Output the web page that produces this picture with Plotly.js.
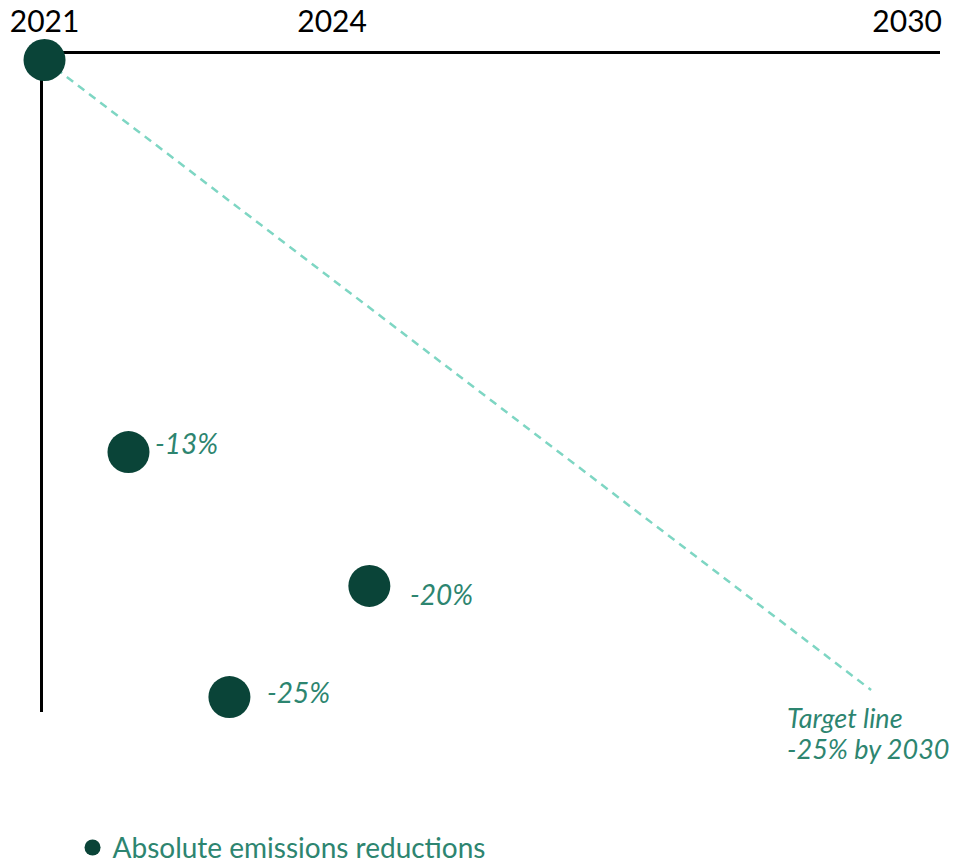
<!DOCTYPE html>
<html>
<head>
<meta charset="utf-8">
<script src="https://cdn.plot.ly/plotly-3.0.1.min.js"></script>
<style>html,body{margin:0;padding:0;background:#fff;}#chart{width:966px;height:865px;}</style>
</head>
<body>
<div id="chart"></div>
<script>
// Data
var years = [2021, 2021.876, 2022.929, 2024.389];
var reductions = [0, -15.56, -25.28, -20.87];
var pointLabels = ['', '-13%', '-25%', '-20%'];
var targetYears = [2021, 2029.624];
var targetValues = [0, -25];
var tickYears = [2021, 2024, 2030];
var tickLabels = ['2021', '2024', '2030'];
var seriesName = 'Absolute emissions reductions';
var targetLines = ['Target line', '-25% by 2030'];

// Styling
var FONT = 'Lato, "Open Sans", sans-serif';
var DARK = '#0a4438';
var MINT = '#7ed6c3';
var TEAL = '#2d8570';
var labelShift = [null, [25, 9], [36, 5], [39, -8]];
var targetShift = [[-86, -27], [-86, -58]];

var traces = [
  {
    x: targetYears, y: targetValues, mode: 'lines', type: 'scatter',
    line: {color: MINT, width: 2.5, dash: '8px,6px'},
    hoverinfo: 'skip', showlegend: false
  },
  {
    x: years, y: reductions, mode: 'markers', type: 'scatter', name: seriesName,
    marker: {color: DARK, size: 42, line: {width: 0}},
    cliponaxis: false, showlegend: true
  }
];

var annotations = [];
for (var i = 0; i < years.length; i++) {
  if (!pointLabels[i]) continue;
  annotations.push({
    x: years[i], y: reductions[i], xref: 'x', yref: 'y',
    text: '<i>' + pointLabels[i] + '</i>', showarrow: false,
    xanchor: 'left', yanchor: 'middle',
    xshift: labelShift[i][0], yshift: labelShift[i][1],
    font: {family: FONT, size: 28, color: TEAL}
  });
}
for (var j = 0; j < targetLines.length; j++) {
  annotations.push({
    x: targetYears[1], y: targetValues[1], xref: 'x', yref: 'y',
    text: '<i>' + targetLines[j] + '</i>', showarrow: false,
    xanchor: 'left', yanchor: 'middle', align: 'left',
    xshift: targetShift[j][0], yshift: targetShift[j][1],
    font: {family: FONT, size: 27, color: TEAL}
  });
}

var layout = {
  width: 966, height: 865,
  margin: {l: 42.5, r: 26, t: 54, b: 153, pad: 0, autoexpand: false},
  paper_bgcolor: '#fff', plot_bgcolor: '#fff',
  font: {family: FONT, color: '#000'},
  showlegend: true,
  legend: {
    orientation: 'h', xref: 'container', yref: 'container',
    x: 0.0751, y: 0.0488, xanchor: 'left', yanchor: 'top',
    font: {family: FONT, size: 28, color: TEAL},
    itemsizing: 'trace', bgcolor: 'rgba(0,0,0,0)'
  },
  xaxis: {
    range: [2020.984, 2030.343], side: 'top',
    showline: true, linecolor: '#000', linewidth: 3, layer: 'below traces',
    showgrid: false, zeroline: false, ticks: '',
    tickvals: tickYears, ticktext: tickLabels,
    tickfont: {family: FONT, size: 30, color: '#000'},
    ticklabelstandoff: 7, automargin: false,
    fixedrange: true
  },
  yaxis: {
    range: [-25.873, 0.238],
    showline: true, linecolor: '#000', linewidth: 3, layer: 'below traces',
    showgrid: false, zeroline: false, showticklabels: false, ticks: '',
    automargin: false, fixedrange: true
  },
  annotations: annotations
};

Plotly.newPlot('chart', traces, layout, {displayModeBar: false, staticPlot: true});
</script>
</body>
</html>
